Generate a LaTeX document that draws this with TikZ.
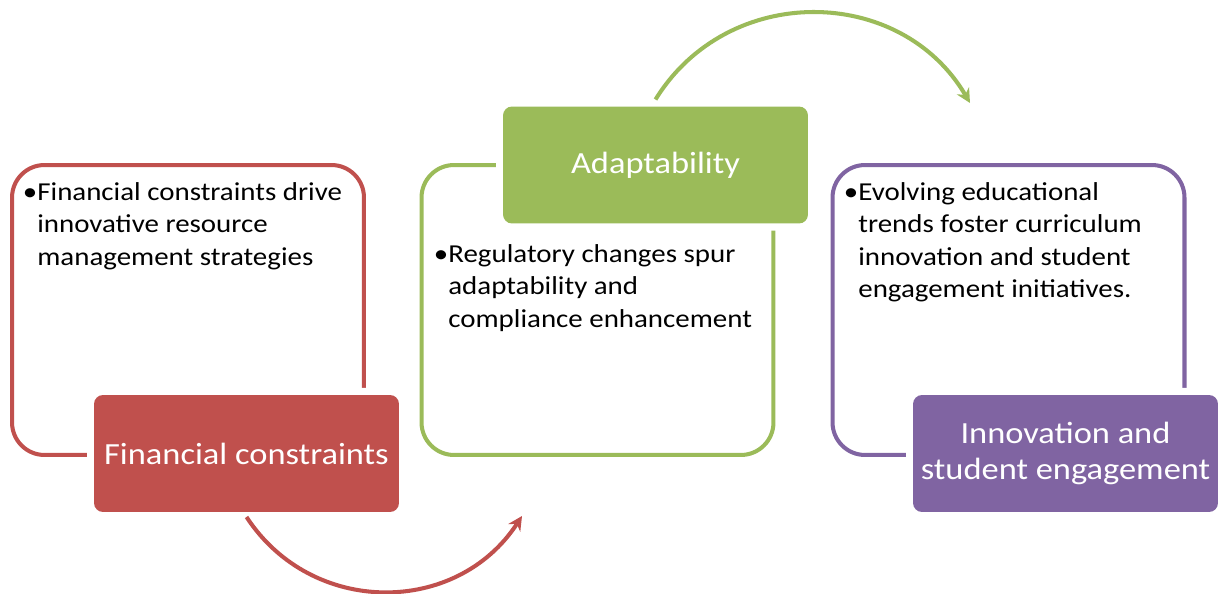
\documentclass[tikz,border=0pt]{standalone}
\usepackage{fontspec}
\setmainfont[FakeStretch=1.12]{Carlito}
\usetikzlibrary{arrows.meta}
\definecolor{redbox}{HTML}{C0504D}
\definecolor{greenbox}{HTML}{9BBB59}
\definecolor{purplebox}{HTML}{8064A2}

\begin{document}
\begin{tikzpicture}[x=0.02cm,y=-0.02cm,
	framebox/.style={draw=#1, line width=2.3pt, rounded corners=0.65cm, minimum width=7.04cm, minimum height=5.8cm, inner sep=0pt, outer sep=0pt},
	titlebox/.style={fill=#1, preaction={draw=white, line width=8pt}, rounded corners=0.18cm, minimum width=6.1cm, minimum height=2.34cm, inner sep=0pt, outer sep=0pt, text=white, align=center, font=\fontsize{17.5}{21}\selectfont},
	bodytext/.style={anchor=north west, inner sep=0pt, align=left, font=\fontsize{14.7}{18.5}\selectfont},
	cyclearrow/.style={draw=#1, line width=2.3pt, -{Stealth[length=8pt,width=8pt]}}]
	\useasboundingbox (0,0) rectangle (1223,594);
	\node[framebox=redbox] (redframe) at (188,310) {};
	\node[framebox=greenbox] (greenframe) at (597.5,310) {};
	\node[framebox=purplebox] (purpleframe) at (1008.5,310) {};
	\node[bodytext] (redtext) at (37,182) {\llap{•}Financial constraints drive\\innovative resource\\management strategies};
	\node[bodytext] (greentext) at (448,244) {\llap{•}Regulatory changes spur\\adaptability and\\compliance enhancement};
	\node[bodytext] (purpletext) at (858,182) {\llap{•}Evolving educational\\trends foster curriculum\\innovation and student\\engagement initiatives.};
	\node[titlebox=redbox] (redtitle) at (246.5,453.5) {Financial constraints};
	\node[titlebox=greenbox] (greentitle) at (655.5,165) {Adaptability};
	\node[titlebox=purplebox] (purpletitle) at (1065.5,453.5) {Innovation and\\student engagement};
	\coordinate (redtip) at (522,516);
	\coordinate (greentip) at (970,103);
	\draw[cyclearrow=redbox] ([yshift=-0.1cm]redtitle.south) .. controls (312,617) and (457,616) .. (redtip);
	\draw[cyclearrow=greenbox] ([yshift=0.14cm]greentitle.north) .. controls (728,-18) and (901,-15) .. (greentip);
\end{tikzpicture}
\end{document}
